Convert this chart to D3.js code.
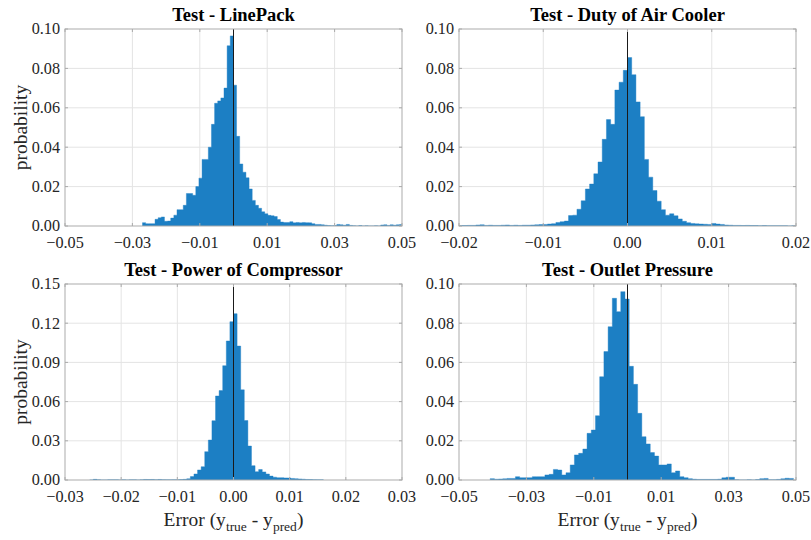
<!DOCTYPE html>
<html lang="en">
<head>
  <meta charset="UTF-8">
  <title>Test error histograms</title>
  <script src="https://d3js.org/d3.v7.min.js"></script>
  <style>
    body { margin: 0; background: #ffffff; }
    text { font-family: "Liberation Serif", "Times New Roman", serif; }
    .tick-label { font-size: 16.2px; fill: #262626; }
    .title { font-size: 18.5px; font-weight: bold; fill: #000; }
    .axis-label { font-size: 19.5px; fill: #262626; }
  </style>
</head>
<body>
  <script>
    // Probability of each bin (left to right)
    const linePackProb = [
      0.0017, 0.0012, 0.0012, 0.0012, 0.0034, 0.0042, 0.0046, 0.0024, 0.0025, 0.0040,
      0.0055, 0.0083, 0.0083, 0.0105, 0.0165, 0.0165, 0.0156, 0.0200, 0.0243, 0.0338,
      0.0338, 0.0400, 0.0516, 0.0623, 0.0635, 0.0650, 0.0700, 0.0915, 0.0965, 0.0715,
      0.0455, 0.0315, 0.0273, 0.0245, 0.0188, 0.0130, 0.0105, 0.0090, 0.0072, 0.0062,
      0.0054, 0.0052, 0.0048, 0.0033, 0.0020, 0.0018, 0.0018, 0.0022, 0.0016, 0.0018,
      0.0016, 0.0018, 0.0017, 0.0016, 0.0012, 0.0008, 0.0008, 0.0006, 0.0004, 0.0002,
      0.0001, 0.0002, 0.0008, 0.0006, 0.0004, 0.0008, 0.0003, 0.0001, 0.0000, 0.0002,
      0.0000, 0.0001, 0.0000, 0.0000, 0.0001, 0.0000, 0.0005, 0.0006, 0.0003, 0.0006,
      0.0004, 0.0006, 0.0007
    ];
    const airCoolerProb = [
      0.0002, 0.0002, 0.0003, 0.0003, 0.0005, 0.0006, 0.0003, 0.0004, 0.0003, 0.0003,
      0.0004, 0.0005, 0.0003, 0.0004, 0.0003, 0.0004, 0.0004, 0.0005, 0.0006, 0.0007,
      0.0008, 0.0010, 0.0012, 0.0018, 0.0022, 0.0025, 0.0053, 0.0055, 0.0085, 0.0128,
      0.0188, 0.0213, 0.0265, 0.0325, 0.0440, 0.0540, 0.0516, 0.0690, 0.0730, 0.0790,
      0.0855, 0.0768, 0.0630, 0.0555, 0.0338, 0.0248, 0.0180, 0.0126, 0.0083, 0.0055,
      0.0062, 0.0052, 0.0036, 0.0024, 0.0017, 0.0013, 0.0011, 0.0010, 0.0009, 0.0008,
      0.0013, 0.0010, 0.0008, 0.0005, 0.0004, 0.0003, 0.0003, 0.0002, 0.0003, 0.0002,
      0.0002, 0.0001, 0.0002, 0.0001, 0.0001, 0.0001, 0.0001, 0.0001, 0.0000, 0.0001
    ];
    const compressorProb = [
      0.0000, 0.0005, 0.0002, 0.0000, 0.0000, 0.0001, 0.0001, 0.0001, 0.0000, 0.0001,
      0.0000, 0.0001, 0.0001, 0.0000, 0.0001, 0.0004, 0.0003, 0.0004, 0.0002, 0.0004,
      0.0002, 0.0001, 0.0001, 0.0002, 0.0002, 0.0003, 0.0005, 0.0009, 0.0026, 0.0046,
      0.0077, 0.0102, 0.0217, 0.0306, 0.0454, 0.0643, 0.0684, 0.0875, 0.1064, 0.1212,
      0.1273, 0.1025, 0.0690, 0.0455, 0.0260, 0.0110, 0.0064, 0.0080, 0.0062, 0.0046,
      0.0030, 0.0022, 0.0018, 0.0018, 0.0016, 0.0015, 0.0012, 0.0010, 0.0008, 0.0006,
      0.0004, 0.0003, 0.0002, 0.0001, 0.0001
    ];
    const outletProb = [
      0.0007, 0.0004, 0.0005, 0.0006, 0.0008, 0.0008, 0.0017, 0.0012, 0.0012, 0.0012,
      0.0017, 0.0017, 0.0017, 0.0026, 0.0029, 0.0054, 0.0051, 0.0026, 0.0037, 0.0077,
      0.0128, 0.0136, 0.0158, 0.0238, 0.0255, 0.0328, 0.0527, 0.0655, 0.0782, 0.0927,
      0.0859, 0.0961, 0.0923, 0.0580, 0.0488, 0.0340, 0.0221, 0.0184, 0.0140, 0.0122,
      0.0077, 0.0077, 0.0082, 0.0037, 0.0046, 0.0017, 0.0012, 0.0007, 0.0004, 0.0003,
      0.0003, 0.0003, 0.0003, 0.0003, 0.0004, 0.0011, 0.0014, 0.0014, 0.0001, 0.0000,
      0.0000, 0.0001, 0.0000, 0.0002, 0.0007, 0.0008, 0.0001, 0.0001, 0.0003, 0.0006,
      0.0009, 0.0008
    ];

    // first bin edge and bin width of each histogram
    const linePackBins = [-0.0270, 0.00093];
    const airCoolerBins = [-0.0200, 0.0005];
    const compressorBins = [-0.0256, 0.00064];
    const outletBins = [-0.04075, 0.00125];

    // axis ranges and ticks
    const linePackX = [-0.05, -0.03, -0.01, 0.01, 0.03, 0.05];
    const airCoolerX = [-0.02, -0.01, 0.00, 0.01, 0.02];
    const compressorX = [-0.03, -0.02, -0.01, 0.00, 0.01, 0.02, 0.03];
    const outletX = [-0.05, -0.03, -0.01, 0.01, 0.03, 0.05];
    const yTicks10 = [0, 0.02, 0.04, 0.06, 0.08, 0.10];
    const yTicks15 = [0, 0.03, 0.06, 0.09, 0.12, 0.15];

    const titles = ["Test - LinePack", "Test - Duty of Air Cooler",
                    "Test - Power of Compressor", "Test - Outlet Pressure"];

    const width = 811, height = 540;
    const svg = d3.select("body").append("svg")
      .attr("width", width)
      .attr("height", height);

    const panels = [
      { title: titles[0], probs: linePackProb, bins: linePackBins, xt: linePackX, yt: yTicks10,
        left: 65, right: 402, top: 29, bottom: 226, ylabel: true, xlabel: false },
      { title: titles[1], probs: airCoolerProb, bins: airCoolerBins, xt: airCoolerX, yt: yTicks10,
        left: 459, right: 796, top: 29, bottom: 226, ylabel: false, xlabel: false },
      { title: titles[2], probs: compressorProb, bins: compressorBins, xt: compressorX, yt: yTicks15,
        left: 65, right: 402, top: 284, bottom: 480, ylabel: true, xlabel: true },
      { title: titles[3], probs: outletProb, bins: outletBins, xt: outletX, yt: yTicks10,
        left: 459, right: 796, top: 284, bottom: 480, ylabel: false, xlabel: true }
    ];

    panels.forEach((p, idx) => {
      const x = d3.scaleLinear()
        .domain([p.xt[0], p.xt[p.xt.length - 1]])
        .range([p.left, p.right]);
      const y = d3.scaleLinear()
        .domain([p.yt[0], p.yt[p.yt.length - 1]])
        .range([p.bottom, p.top]);

      const g = svg.append("g");

      // clip to the plot box
      const clipId = "clip" + idx;
      svg.append("clipPath").attr("id", clipId)
        .append("rect")
        .attr("x", p.left).attr("y", p.top)
        .attr("width", p.right - p.left).attr("height", p.bottom - p.top);

      // grid
      g.append("g").selectAll("line")
        .data(p.xt.slice(1, -1))
        .enter().append("line")
        .attr("x1", d => x(d)).attr("x2", d => x(d))
        .attr("y1", p.top).attr("y2", p.bottom)
        .attr("stroke", "#e4e4e4").attr("stroke-width", 1);
      g.append("g").selectAll("line")
        .data(p.yt.slice(1, -1))
        .enter().append("line")
        .attr("x1", p.left).attr("x2", p.right)
        .attr("y1", d => y(d)).attr("y2", d => y(d))
        .attr("stroke", "#e4e4e4").attr("stroke-width", 1);

      // histogram as a step area
      const pts = p.probs.map((v, i) => ({ e: p.bins[0] + i * p.bins[1], v: v }));
      pts.push({ e: p.bins[0] + p.probs.length * p.bins[1], v: 0 });
      const area = d3.area()
        .x(d => x(d.e))
        .y0(y(0))
        .y1(d => y(d.v))
        .curve(d3.curveStepAfter);
      g.append("path")
        .datum(pts)
        .attr("clip-path", `url(#${clipId})`)
        .attr("d", area)
        .attr("fill", "#1c7fc4")
        .attr("stroke", "#1c7fc4")
        .attr("stroke-width", 0.4);

      // zero line
      g.append("line")
        .attr("x1", x(0)).attr("x2", x(0))
        .attr("y1", p.top).attr("y2", p.bottom)
        .attr("stroke", "#1a1a1a").attr("stroke-width", 1);

      // box and inward ticks
      g.append("rect")
        .attr("x", p.left).attr("y", p.top)
        .attr("width", p.right - p.left).attr("height", p.bottom - p.top)
        .attr("fill", "none").attr("stroke", "#ababab").attr("stroke-width", 1);
      p.yt.forEach(t => {
        g.append("line").attr("x1", p.left).attr("x2", p.left + 3)
          .attr("y1", y(t)).attr("y2", y(t)).attr("stroke", "#ababab");
        g.append("line").attr("x1", p.right).attr("x2", p.right - 3)
          .attr("y1", y(t)).attr("y2", y(t)).attr("stroke", "#ababab");
      });
      p.xt.forEach(t => {
        g.append("line").attr("x1", x(t)).attr("x2", x(t))
          .attr("y1", p.bottom).attr("y2", p.bottom - 3).attr("stroke", "#ababab");
        g.append("line").attr("x1", x(t)).attr("x2", x(t))
          .attr("y1", p.top).attr("y2", p.top + 3).attr("stroke", "#ababab");
      });

      // tick labels
      g.append("g").selectAll("text")
        .data(p.yt)
        .enter().append("text")
        .attr("class", "tick-label")
        .attr("x", p.left - 5)
        .attr("y", d => y(d))
        .attr("dy", "0.33em")
        .attr("text-anchor", "end")
        .text(d => d3.format(".2f")(d));
      g.append("g").selectAll("text")
        .data(p.xt)
        .enter().append("text")
        .attr("class", "tick-label")
        .attr("x", d => x(d))
        .attr("y", p.bottom + 22)
        .attr("text-anchor", "middle")
        .text(d => d3.format(".2f")(d));

      // title
      g.append("text")
        .attr("class", "title")
        .attr("x", (p.left + p.right) / 2)
        .attr("y", p.top - 8)
        .attr("text-anchor", "middle")
        .text(p.title);

      if (p.ylabel) {
        g.append("text")
          .attr("class", "axis-label")
          .attr("transform", `translate(27, ${(p.top + p.bottom) / 2}) rotate(-90)`)
          .attr("text-anchor", "middle")
          .text("probability");
      }

      if (p.xlabel) {
        const t = g.append("text")
          .attr("class", "axis-label")
          .attr("x", (p.left + p.right) / 2)
          .attr("y", p.bottom + 46)
          .attr("text-anchor", "middle");
        t.append("tspan").text("Error (y");
        t.append("tspan").attr("dy", 5).attr("font-size", "13.5px").text("true");
        t.append("tspan").attr("dy", -5).text(" - y");
        t.append("tspan").attr("dy", 5).attr("font-size", "13.5px").text("pred");
        t.append("tspan").attr("dy", -5).text(")");
      }
    });
  </script>
</body>
</html>
